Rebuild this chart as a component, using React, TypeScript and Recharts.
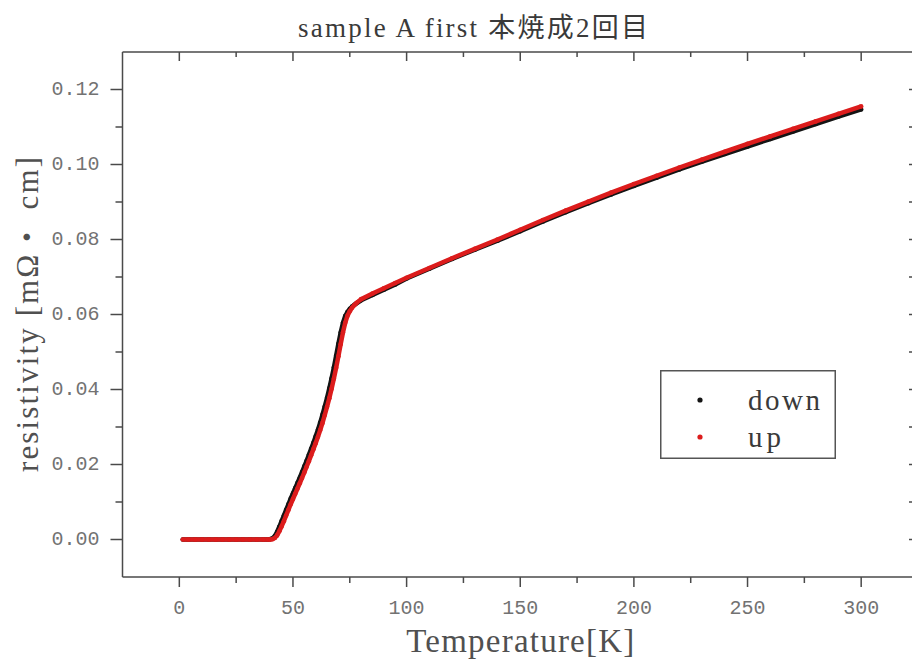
import React from "react";
import { Customized, Legend, Scatter, ScatterChart, XAxis, YAxis } from "recharts";

// temperature [K] shared by both sweeps
const temperature = [
  1.5, 4, 7, 10, 13, 16, 19, 22, 25, 28, 31, 34, 37, 39, 40,
  41, 42, 43, 44, 45, 46, 47, 48, 49, 50,
  51, 52, 53, 54, 55, 56, 57, 58, 59, 60,
  61, 62, 63, 64, 65, 66, 67, 68, 69, 70,
  71, 72, 73, 74, 75, 76, 77, 78,
  80, 85, 90, 95,
  100, 110, 120, 130, 140, 150, 160, 170, 180, 190, 200,
  210, 220, 230, 240, 250, 260, 270, 280, 290, 300,
];

// resistivity [mΩ・cm], cooling sweep
const downRes = [
  0, 0, 0, 0, 0, 0, 0, 0, 0, 0, 0, 0, 0, 0, 0.0001,
  0.0003, 0.0009, 0.002, 0.0034, 0.0049, 0.0064, 0.0079, 0.0094, 0.0109, 0.0123,
  0.0137, 0.0151, 0.0165, 0.018, 0.0195, 0.021, 0.0226, 0.0242, 0.0258, 0.0275,
  0.0293, 0.0312, 0.0333, 0.0355, 0.0378, 0.0403, 0.043, 0.0459, 0.049, 0.0522,
  0.0552, 0.0578, 0.0596, 0.0607, 0.0615, 0.0621, 0.0626, 0.063,
  0.0638, 0.0652, 0.0666, 0.068,
  0.0696, 0.0722, 0.0748, 0.0773, 0.0797, 0.0822, 0.0848, 0.0873, 0.0897, 0.092, 0.0943,
  0.0965, 0.0987, 0.1008, 0.1028, 0.1048, 0.1068, 0.1088, 0.1108, 0.1128, 0.1147,
];

// resistivity [mΩ・cm], warming sweep
const upRes = [
  0, 0, 0, 0, 0, 0, 0, 0, 0, 0, 0, 0, 0, 0, 0,
  0.0001, 0.0004, 0.0011, 0.0022, 0.0035, 0.0049, 0.0064, 0.0079, 0.0094, 0.0108,
  0.0122, 0.0136, 0.015, 0.0164, 0.0179, 0.0194, 0.0209, 0.0225, 0.0241, 0.0257,
  0.0274, 0.0292, 0.0311, 0.0332, 0.0354, 0.0377, 0.0402, 0.0429, 0.0458, 0.0489,
  0.0521, 0.0552, 0.0578, 0.0597, 0.0609, 0.0618, 0.0625, 0.0631,
  0.0641, 0.0656, 0.067, 0.0684,
  0.0698, 0.0724, 0.075, 0.0775, 0.08, 0.0826, 0.0852, 0.0877, 0.0901, 0.0925, 0.0948,
  0.097, 0.0992, 0.1013, 0.1034, 0.1055, 0.1075, 0.1095, 0.1115, 0.1135, 0.1155,
];

const xTicks = [0, 25, 50, 75, 100, 125, 150, 175, 200, 225, 250, 275, 300, 325];
const xLabelTicks = [0, 50, 100, 150, 200, 250, 300];
const yTicks = [0, 0.01, 0.02, 0.03, 0.04, 0.05, 0.06, 0.07, 0.08, 0.09, 0.1, 0.11, 0.12];
const yLabelTicks = [0, 0.02, 0.04, 0.06, 0.08, 0.1, 0.12];

const downData = temperature.map((t, i) => ({ t, r: downRes[i] }));
const upData = temperature.map((t, i) => ({ t, r: upRes[i] }));

const AXIS = "#4a4a4a";
const TICK_TEXT = "#727272";
const LABEL_TEXT = "#505050";
const DOWN = "#141414";
const UP = "#dc1c1c";
const tickFont = '"Liberation Mono", monospace';
const serif = '"Liberation Serif", "Noto Sans CJK JP", serif';

const isMajorX = (v: number) => xLabelTicks.includes(v);
const isMajorY = (v: number) => yLabelTicks.some((t) => Math.abs(t - v) < 1e-9);

const BottomTick = ({ x, y, payload }: any) => {
  const major = isMajorX(payload.value);
  return (
    <g>
      <line x1={x} x2={x} y1={y} y2={y + (major ? 10 : 6)} stroke={AXIS} strokeWidth={1.5} />
      {major && (
        <text x={x} y={y + 31} textAnchor="middle" dominantBaseline="central" fill={TICK_TEXT} fontSize={20} fontFamily={tickFont}>
          {payload.value}
        </text>
      )}
    </g>
  );
};

const TopTick = ({ x, y, payload }: any) => (
  <line x1={x} x2={x} y1={y} y2={y + (isMajorX(payload.value) ? 9 : 5)} stroke={AXIS} strokeWidth={1.5} />
);

const LeftTick = ({ x, y, payload }: any) => {
  const major = isMajorY(payload.value);
  return (
    <g>
      <line x1={x - (major ? 12 : 7)} x2={x} y1={y} y2={y} stroke={AXIS} strokeWidth={1.5} />
      {major && (
        <text x={x - 23} y={y} textAnchor="end" dominantBaseline="central" fill={TICK_TEXT} fontSize={20} fontFamily={tickFont}>
          {payload.value.toFixed(2)}
        </text>
      )}
    </g>
  );
};

const RightTick = ({ x, y }: any) => (
  <line x1={x - 9} x2={x} y1={y} y2={y} stroke={AXIS} strokeWidth={1.5} />
);

const YLabel = ({ viewBox }: any) => {
  const cx = viewBox.x + 15;
  const cy = viewBox.y + viewBox.height / 2;
  return (
    <text
      x={cx}
      y={cy}
      transform={`rotate(-90 ${cx} ${cy})`}
      textAnchor="middle"
      dominantBaseline="central"
      fill={LABEL_TEXT}
      fontSize={31}
      fontFamily={serif}
      textLength={315}
      lengthAdjust="spacing"
    >
      resistivity [mΩ・ cm]
    </text>
  );
};

const XLabel = ({ viewBox }: any) => (
  <text
    x={viewBox.x + viewBox.width / 2}
    y={viewBox.y + 64}
    textAnchor="middle"
    dominantBaseline="central"
    fill={LABEL_TEXT}
    fontSize={33}
    fontFamily={serif}
    textLength={228}
    lengthAdjust="spacing"
  >
    Temperature[K]
  </text>
);

const Title = () => (
  <text
    x={473}
    y={28}
    textAnchor="middle"
    dominantBaseline="central"
    fill="#3a3a3a"
    fontSize={27}
    fontFamily={serif}
    textLength={350}
    lengthAdjust="spacing"
  >
    sample A first 本焼成2回目
  </text>
);

const LegendBox = ({ payload }: any) => (
  <svg width={176} height={89} style={{ display: "block" }}>
    <rect x={0.75} y={0.75} width={174.5} height={87.5} fill="#fff" stroke="#555" strokeWidth={1.5} />
    {(payload || []).map((item: any, i: number) => {
      const cy = i === 0 ? 30 : 67;
      return (
        <g key={item.value}>
          <circle cx={40} cy={cy} r={2.6} fill={item.color} />
          <text
            x={88}
            y={cy}
            dominantBaseline="central"
            fill="#3a3a3a"
            fontSize={29}
            fontFamily={serif}
            textLength={item.value === "down" ? 72 : 33}
            lengthAdjust="spacing"
          >
            {item.value}
          </text>
        </g>
      );
    })}
  </svg>
);

const dot = (color: string) => (p: any) => <circle cx={p.cx} cy={p.cy} r={2.3} fill={color} />;

export default function App() {
  return (
    <div style={{ position: "relative", width: 912, height: 668, overflow: "hidden", background: "#fff" }}>
      <style>{"body{margin:0}"}</style>
      <ScatterChart width={920} height={668} margin={{ top: 52, right: 2, bottom: 31, left: 12.5 }}>
        <XAxis
          xAxisId="bottom"
          type="number"
          dataKey="t"
          domain={[-25, 325]}
          allowDataOverflow
          ticks={xTicks}
          interval={0}
          height={60}
          tickSize={0}
          tickMargin={0}
          tick={<BottomTick />}
          axisLine={{ stroke: AXIS, strokeWidth: 1.5 }}
          label={<XLabel />}
        />
        <XAxis
          xAxisId="top"
          orientation="top"
          mirror
          type="number"
          dataKey="t"
          domain={[-25, 325]}
          allowDataOverflow
          ticks={xTicks}
          interval={0}
          tickSize={0}
          tickMargin={0}
          tick={<TopTick />}
          axisLine={{ stroke: AXIS, strokeWidth: 1.5 }}
        />
        <YAxis
          yAxisId="left"
          type="number"
          dataKey="r"
          domain={[-0.01, 0.13]}
          allowDataOverflow
          ticks={yTicks}
          interval={0}
          width={110}
          tickSize={0}
          tickMargin={0}
          tick={<LeftTick />}
          axisLine={{ stroke: AXIS, strokeWidth: 1.5 }}
          label={<YLabel />}
        />
        <YAxis
          yAxisId="right"
          orientation="right"
          mirror
          type="number"
          dataKey="r"
          domain={[-0.01, 0.13]}
          allowDataOverflow
          ticks={yTicks}
          interval={0}
          width={20}
          tickSize={0}
          tickMargin={0}
          tick={<RightTick />}
          axisLine={{ stroke: AXIS, strokeWidth: 1.5 }}
        />
        <Scatter
          name="down"
          data={downData}
          xAxisId="bottom"
          yAxisId="left"
          fill={DOWN}
          line={{ stroke: DOWN, strokeWidth: 4.5 }}
          shape={dot(DOWN)}
          isAnimationActive={false}
        />
        <Scatter
          name="up"
          data={upData}
          xAxisId="bottom"
          yAxisId="left"
          fill={UP}
          line={{ stroke: UP, strokeWidth: 4.5 }}
          shape={dot(UP)}
          isAnimationActive={false}
        />
        <Legend
          layout="vertical"
          align="center"
          verticalAlign="middle"
          content={<LegendBox />}
          wrapperStyle={{ left: 660, top: 370, width: 176, height: 89 }}
        />
        <Customized component={Title} />
      </ScatterChart>
    </div>
  );
}
